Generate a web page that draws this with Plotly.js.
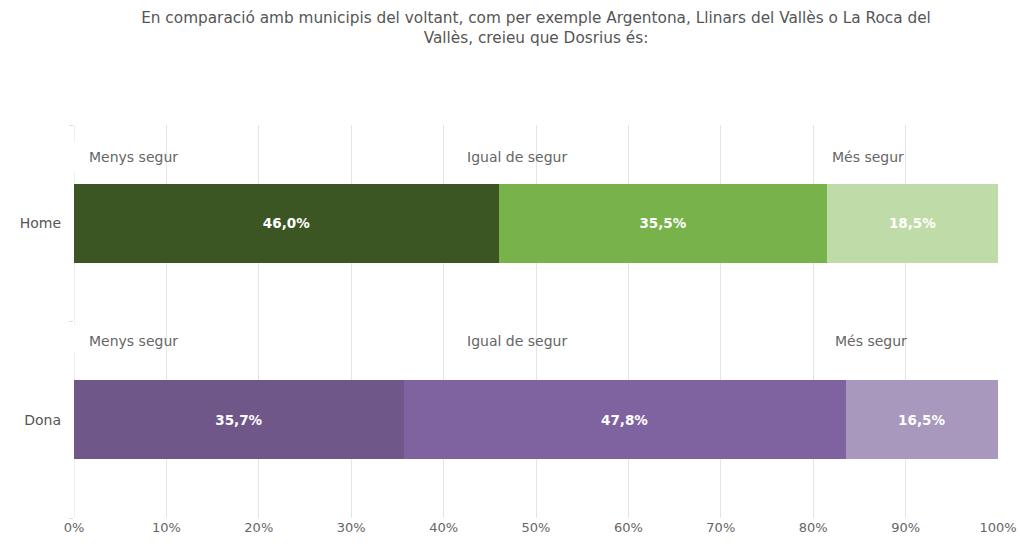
<!DOCTYPE html>
<html>
<head>
<meta charset="utf-8">
<script src="https://cdn.plot.ly/plotly-3.0.1.min.js"></script>
<style>html,body{margin:0;padding:0;background:#fff;}#chart{width:1020px;height:546px;}</style>
</head>
<body>
<div id="chart"></div>
<script>
var categories = ['Home', 'Dona'];
var seriesNames = ['Menys segur', 'Igual de segur', 'Més segur'];
var menysSegur = [46.0, 35.7];
var igualSegur = [35.5, 47.8];
var mesSegur = [18.5, 16.5];
var tickVals = [0, 10, 20, 30, 40, 50, 60, 70, 80, 90, 100];
var tickText = ['0%', '10%', '20%', '30%', '40%', '50%', '60%', '70%', '80%', '90%', '100%'];

var colors = [
  ['#3b5623', '#70578a'],
  ['#77b24a', '#7f63a0'],
  ['#bfdca8', '#a898be']
];
var values = [menysSegur, igualSegur, mesSegur];
var font = '"DejaVu Sans", Verdana, sans-serif';

var traces = values.map(function (vals, i) {
  return {
    type: 'bar',
    orientation: 'h',
    name: seriesNames[i],
    y: categories,
    x: vals,
    width: 0.4,
    marker: { color: colors[i], line: { width: 0 } },
    texttemplate: '%{x:.1f}%',
    textposition: 'inside',
    insidetextanchor: 'middle',
    textangle: 0,
    textfont: { color: '#ffffff', size: 13.5, family: font, weight: 600 },
    hoverinfo: 'skip'
  };
});

// label rows above each bar
var labelX = [1.6, 42.5, 82.0];
var rowOffset = { 'Home': 0.338, 'Dona': 0.40 };
var catIndex = { 'Home': 1, 'Dona': 0 };
var annotations = [];
categories.forEach(function (c) {
  seriesNames.forEach(function (n, i) {
    annotations.push({
      xref: 'x', yref: 'y',
      x: labelX[i] + (c === 'Dona' && i === 2 ? 0.4 : 0),
      y: catIndex[c] + rowOffset[c],
      text: n, showarrow: false, xanchor: 'left', yanchor: 'middle',
      xshift: -2,
      font: { size: 14, color: '#666666', family: font }
    });
  });
});

var bands = [
  { y0: 1.261, y1: 1.414 },
  { y0: 0.34, y1: 0.482 }
];
var shapes = [{
  type: 'line', layer: 'below', xref: 'x', yref: 'paper',
  x0: 0, x1: 0, y0: 0, y1: 1,
  line: { color: '#e0e0e0', width: 1 }
}].concat(bands.map(function (b) {
  return {
    type: 'rect', layer: 'between', xref: 'paper', yref: 'y',
    x0: -0.002, x1: 0.996, y0: b.y0, y1: b.y1,
    fillcolor: '#ffffff', line: { width: 0 }
  };
}));

var layout = {
  width: 1020, height: 546,
  margin: { l: 74, r: 22, t: 125, b: 28 },
  paper_bgcolor: '#ffffff', plot_bgcolor: '#ffffff',
  barmode: 'stack',
  showlegend: false,
  separators: ',.',
  font: { family: font, color: '#666666', size: 13 },
  title: {
    text: 'En comparació amb municipis del voltant, com per exemple Argentona, Llinars del Vallès o La Roca del<br>Vallès, creieu que Dosrius és:',
    x: 0.5, xanchor: 'center', xref: 'paper',
    y: 0.957, yanchor: 'top', yref: 'container',
    font: { size: 15.3, color: '#555555', family: font }
  },
  xaxis: {
    range: [0, 100],
    tickvals: tickVals, ticktext: tickText,
    showgrid: true, gridcolor: '#e4e4e4', gridwidth: 1,
    zeroline: false,
    showline: false,
    ticks: '', fixedrange: true,
    tickfont: { size: 13, color: '#666666', family: font }
  },
  yaxis: {
    type: 'category',
    categoryorder: 'array', categoryarray: ['Dona', 'Home'],
    range: [-0.5, 1.5],
    showgrid: false, zeroline: false, showline: false,
    ticks: 'outside', tickson: 'boundaries', ticklen: 4, tickcolor: '#dddddd',
    ticklabelstandoff: 12,
    fixedrange: true,
    tickfont: { size: 14, color: '#555555', family: font }
  },
  annotations: annotations,
  shapes: shapes
};

Plotly.newPlot('chart', traces, layout, { displayModeBar: false, staticPlot: true });
</script>
</body>
</html>
